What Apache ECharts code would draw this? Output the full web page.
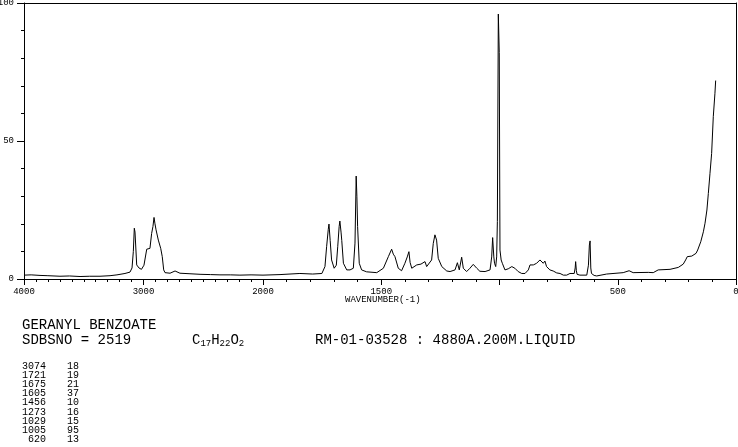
<!DOCTYPE html>
<html><head><meta charset="utf-8">
<script src="https://cdn.jsdelivr.net/npm/echarts@6/dist/echarts.min.js"></script>
<style>html,body{margin:0;padding:0;background:#fff}#c{width:738px;height:447px}</style>
</head><body><div id="c"></div>
<script>
// ---- data (Raman spectrum of geranyl benzoate) ----
const hiWavenumber = [4000, 3940, 3866, 3800, 3699, 3620, 3531, 3450, 3364, 3280, 3222, 3155, 3113, 3096, 3085, 3077, 3071, 3057, 3038, 3017, 2996, 2973, 2946, 2932, 2921, 2912, 2904, 2895, 2876, 2856, 2843, 2831, 2820, 2778, 2736, 2695, 2611, 2527, 2440, 2360, 2270, 2193, 2100, 2000];
const hiIntensity  = [1.4, 1.5, 1.3, 1.2, 1.0, 1.1, 0.9, 1.0, 1.0, 1.2, 1.5, 2.0, 2.5, 4.0, 10.0, 18.4, 17.0, 5.1, 4.0, 3.5, 5.0, 10.8, 11.1, 16.5, 19.0, 22.3, 20.0, 17.8, 14.1, 11.1, 8.1, 3.3, 2.3, 2.1, 2.9, 2.1, 1.9, 1.7, 1.6, 1.5, 1.5, 1.4, 1.5, 1.4];

const loWavenumber = [2000, 1928, 1844, 1790, 1751, 1738, 1731, 1724, 1721, 1716, 1710, 1699, 1690, 1684, 1678, 1675, 1670, 1667, 1660, 1646, 1632, 1618, 1611, 1606, 1603, 1600, 1593, 1583, 1562, 1519, 1491, 1470, 1456, 1449, 1442, 1428, 1421, 1414, 1400, 1390, 1383, 1378, 1371, 1350, 1332, 1315, 1308, 1287, 1280, 1273, 1266, 1259, 1244, 1223, 1209, 1188, 1178, 1170, 1160, 1153, 1139, 1125, 1111, 1096, 1083, 1061, 1040, 1033, 1029, 1024, 1021, 1016, 1012, 1009, 1005, 1001, 998, 993, 988, 977, 963, 948, 935, 921, 906, 892, 878, 871, 857, 843, 829, 822, 815, 808, 801, 787, 773, 758, 744, 730, 716, 702, 684, 680, 678, 675, 672, 660, 631, 624, 620, 617, 614, 611, 600, 589, 547, 477, 452, 435, 371, 350, 329, 279, 244, 223, 213, 206, 187, 169, 162, 149, 138, 131, 123, 117, 110, 103, 96, 89, 86];
const loIntensity  = [1.4, 1.6, 2.0, 1.8, 2.0, 4.5, 11.7, 18.0, 19.9, 14.0, 6.9, 3.9, 5.0, 11.7, 19.0, 21.0, 17.0, 14.0, 5.7, 3.3, 3.3, 3.9, 13.0, 37.3, 30.0, 19.0, 5.7, 3.3, 2.6, 2.3, 3.9, 8.1, 10.8, 9.0, 8.1, 3.9, 3.3, 3.0, 5.7, 8.0, 9.9, 6.0, 3.9, 5.1, 5.4, 6.3, 4.5, 6.9, 12.9, 16.0, 14.1, 7.5, 4.5, 2.9, 2.7, 3.3, 5.9, 3.3, 7.9, 3.9, 2.7, 3.9, 5.3, 3.9, 2.8, 2.7, 3.3, 8.0, 15.0, 8.0, 5.7, 4.5, 8.0, 20.8, 96.0, 82.0, 10.5, 6.9, 5.7, 3.3, 3.7, 4.5, 3.9, 2.7, 2.0, 2.0, 3.3, 5.1, 5.1, 5.7, 6.9, 7.5, 5.7, 6.5, 4.5, 3.3, 2.9, 2.2, 2.0, 1.4, 1.4, 2.0, 2.0, 4.0, 6.3, 3.0, 1.7, 1.4, 1.4, 5.0, 12.3, 13.8, 4.0, 2.0, 1.3, 1.1, 1.8, 2.3, 3.0, 2.3, 2.4, 2.3, 3.3, 3.5, 4.2, 5.4, 6.9, 8.1, 8.3, 9.3, 10.5, 13.5, 17.1, 20.2, 25.0, 31.0, 38.3, 45.5, 58.8, 67.3, 71.9];

const yLabels = [0, 50, 100];
const xLabelsHigh = [4000, 3000, 2000];
const xLabelsLow = [1500, 500, 0];

const peakWavenumber = [3074, 1721, 1675, 1605, 1456, 1273, 1029, 1005, 620];
const peakIntensity  = [18, 19, 21, 37, 10, 16, 15, 95, 13];

const compoundName = 'GERANYL BENZOATE';
const sdbsLine = 'SDBSNO = 2519';
const formulaParts = [['C', false], ['17', true], ['H', false], ['22', true], ['O', false], ['2', true]];
const measurement = 'RM-01-03528 : 4880A.200M.LIQUID';
const axisTitle = 'WAVENUMBER(-1)';

// ---- chart ----
const MONO = '"Liberation Mono", "DejaVu Sans Mono", monospace';
const BLACK = '#000';
const chart = echarts.init(document.getElementById('c'), null, {renderer: 'canvas'});

const pair = (xs, ys) => xs.map((x, i) => [x, ys[i]]);
const lbl = {color: BLACK, fontFamily: MONO, fontSize: 9};
const line = {lineStyle: {color: BLACK, width: 1}};

function bottomX(grid, min, max, interval, minorSplit, labels) {
  return {
    gridIndex: grid, type: 'value', min, max, interval, inverse: true, position: 'bottom',
    axisLine: {show: true, ...line},
    axisTick: {show: true, length: 6, lineStyle: {color: BLACK, width: 1}},
    minorTick: {show: true, splitNumber: minorSplit, length: 3, lineStyle: {color: BLACK, width: 1}},
    splitLine: {show: false}, minorSplitLine: {show: false},
    axisLabel: {...lbl, margin: 8, showMinLabel: true, showMaxLabel: true, hideOverlap: false,
      formatter: v => labels.includes(v) ? String(v) : ''}
  };
}
function frameX(grid, min, max) {
  return {gridIndex: grid, type: 'value', min, max, inverse: true, position: 'top',
    axisLine: {show: true, ...line}, axisTick: {show: false}, axisLabel: {show: false}, splitLine: {show: false}};
}

const graphic = [];
graphic.push({type: 'text', x: 345, y: 300, silent: true,
  style: {text: axisTitle, font: '9px ' + MONO, fill: BLACK, verticalAlign: 'middle'}});
graphic.push({type: 'text', x: 22, y: 325, silent: true,
  style: {text: compoundName, font: '14px ' + MONO, fill: BLACK, verticalAlign: 'middle'}});
graphic.push({type: 'text', x: 22, y: 340, silent: true,
  style: {text: sdbsLine, font: '14px ' + MONO, fill: BLACK, verticalAlign: 'middle'}});
let fx = 192;
formulaParts.forEach(([t, sub]) => {
  const size = sub ? 9 : 14;
  graphic.push({type: 'text', x: fx, y: sub ? 344 : 340, silent: true,
    style: {text: t, font: size + 'px ' + MONO, fill: BLACK, verticalAlign: 'middle'}});
  fx += t.length * size * 0.6;
});
graphic.push({type: 'text', x: 315, y: 340, silent: true,
  style: {text: measurement, font: '14px ' + MONO, fill: BLACK, verticalAlign: 'middle'}});
peakWavenumber.forEach((w, i) => {
  const y = 366 + i * 9.2;
  graphic.push({type: 'text', x: 22, y, silent: true,
    style: {text: String(w).padStart(4, ' '), font: '10px ' + MONO, fill: BLACK, verticalAlign: 'middle'}});
  graphic.push({type: 'text', x: 67, y, silent: true,
    style: {text: String(peakIntensity[i]), font: '10px ' + MONO, fill: BLACK, verticalAlign: 'middle'}});
});

const option = {
  animation: false,
  backgroundColor: '#fff',
  grid: [
    {left: 24, top: 3, width: 239, height: 276, containLabel: false, outerBoundsMode: 'none'},
    {left: 263, top: 3, width: 473, height: 276, containLabel: false, outerBoundsMode: 'none'}
  ],
  xAxis: [
    bottomX(0, 2000, 4000, 1000, 10, xLabelsHigh),
    bottomX(1, 0, 2000, 500, 5, xLabelsLow),
    frameX(0, 2000, 4000),
    frameX(1, 0, 2000)
  ],
  yAxis: [
    {gridIndex: 0, type: 'value', min: 0, max: 100, interval: 50, position: 'left',
      axisLine: {show: true, ...line},
      axisTick: {show: true, length: 7, lineStyle: {color: BLACK, width: 1}},
      minorTick: {show: true, splitNumber: 5, length: 3, lineStyle: {color: BLACK, width: 1}},
      splitLine: {show: false},
      axisLabel: {...lbl, margin: 10, showMinLabel: true, showMaxLabel: true,
        formatter: v => yLabels.includes(v) ? String(v) : ''}},
    {gridIndex: 1, type: 'value', min: 0, max: 100, position: 'right',
      axisLine: {show: true, ...line}, axisTick: {show: false}, axisLabel: {show: false}, splitLine: {show: false}}
  ],
  series: [
    {type: 'line', xAxisIndex: 0, yAxisIndex: 0, data: pair(hiWavenumber, hiIntensity),
      symbol: 'none', showSymbol: false, silent: true, lineStyle: {color: BLACK, width: 1}},
    {type: 'line', xAxisIndex: 1, yAxisIndex: 1, data: pair(loWavenumber, loIntensity),
      symbol: 'none', showSymbol: false, silent: true, lineStyle: {color: BLACK, width: 1}}
  ],
  graphic
};
chart.setOption(option);
</script>
</body></html>
